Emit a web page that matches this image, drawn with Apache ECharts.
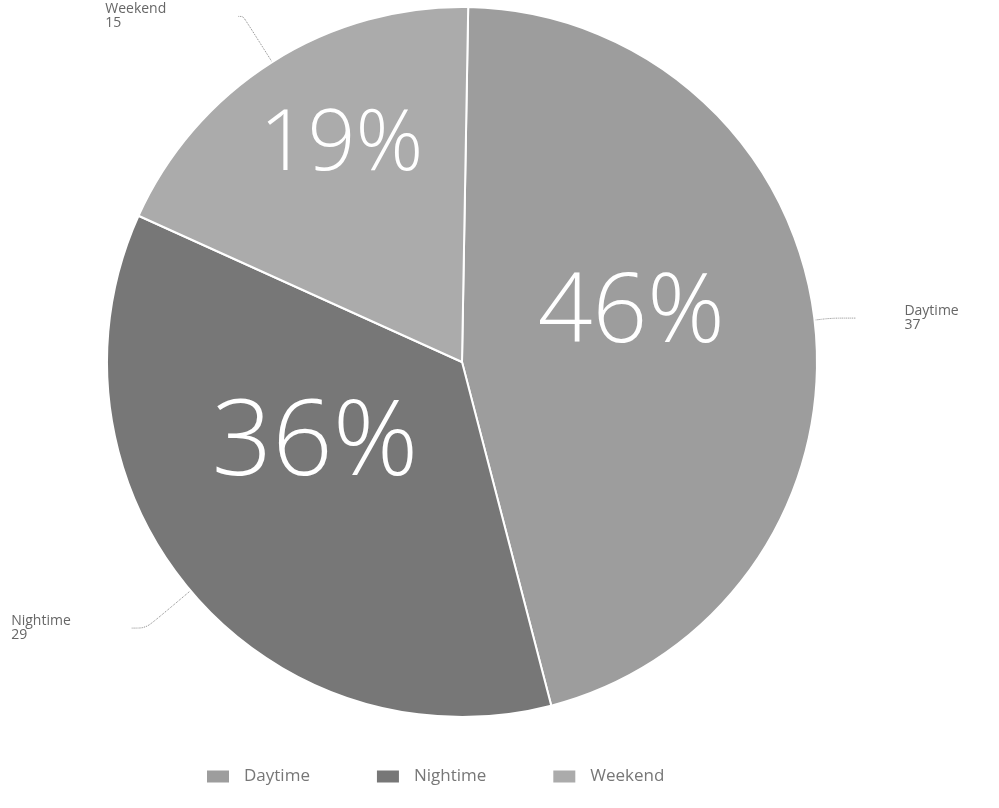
<!DOCTYPE html>
<html>
<head>
<meta charset="utf-8">
<script src="https://cdn.jsdelivr.net/npm/echarts@6/dist/echarts.min.js"></script>
<style>
html,body{margin:0;padding:0;background:#fff;}
#chart{width:999px;height:808px;}
</style>
</head>
<body>
<div id="chart"></div>
<script>
const categories = ['Daytime', 'Nightime', 'Weekend'];
const values = [37, 29, 15];
const colors = ['#9d9d9d', '#777777', '#ababab'];

// per-slice styling (not data)
const innerOffsets = [[-10, -26], [-9, -33], [-24, -63]];
const innerSizes = [96, 106, 84];
const lineLens = [[17, 25], [58, 15], [54, 5]];
const labelDist = [48, 5, 5];
const labelWidth = [90, 115, 128];

const chart = echarts.init(document.getElementById('chart'));

const outerData = categories.map((n, i) => ({
  name: n, value: values[i],
  itemStyle: { color: colors[i] },
  labelLine: { length: lineLens[i][0], length2: lineLens[i][1] },
  label: {
    distanceToLabelLine: labelDist[i],
    rich: {
      a: { width: labelWidth[i], align: 'left', fontSize: 14, lineHeight: 14, color: '#666', fontFamily: 'Open Sans' }
    }
  }
}));
const innerData = categories.map((n, i) => ({
  name: n, value: values[i],
  label: { offset: innerOffsets[i], fontSize: innerSizes[i] }
}));

chart.setOption({
  animation: false,
  color: colors,
  legend: {
    bottom: 18,
    left: 200,
    icon: 'rect',
    itemWidth: 24,
    itemHeight: 14,
    itemGap: 65,
    data: categories,
    textStyle: { color: '#777', fontSize: 17, fontFamily: 'Open Sans', padding: [0, 0, 0, 9] }
  },
  series: [
    {
      type: 'pie',
      center: [462, 362],
      radius: 355,
      startAngle: 89,
      avoidLabelOverlap: false,
      itemStyle: { borderColor: '#fff', borderWidth: 2 },
      label: {
        show: true,
        position: 'outside',
        formatter: p => '{a|' + p.name + '}\n{a|' + p.value + '}'
      },
      labelLine: {
        show: true,
        smooth: 0.3,
        lineStyle: { type: 'dotted', color: '#888', width: 1 }
      },
      emphasis: { disabled: true },
      data: outerData
    },
    {
      type: 'pie',
      center: [462, 362],
      radius: 355,
      startAngle: 89,
      silent: true,
      itemStyle: { color: 'rgba(0,0,0,0)', borderWidth: 0 },
      label: {
        show: true,
        position: 'inner',
        color: '#fff',
        fontFamily: 'Open Sans',
        fontWeight: 300,
        formatter: p => Math.round(p.percent) + '%'
      },
      labelLine: { show: false },
      emphasis: { disabled: true },
      data: innerData
    }
  ]
});
</script>
</body>
</html>
